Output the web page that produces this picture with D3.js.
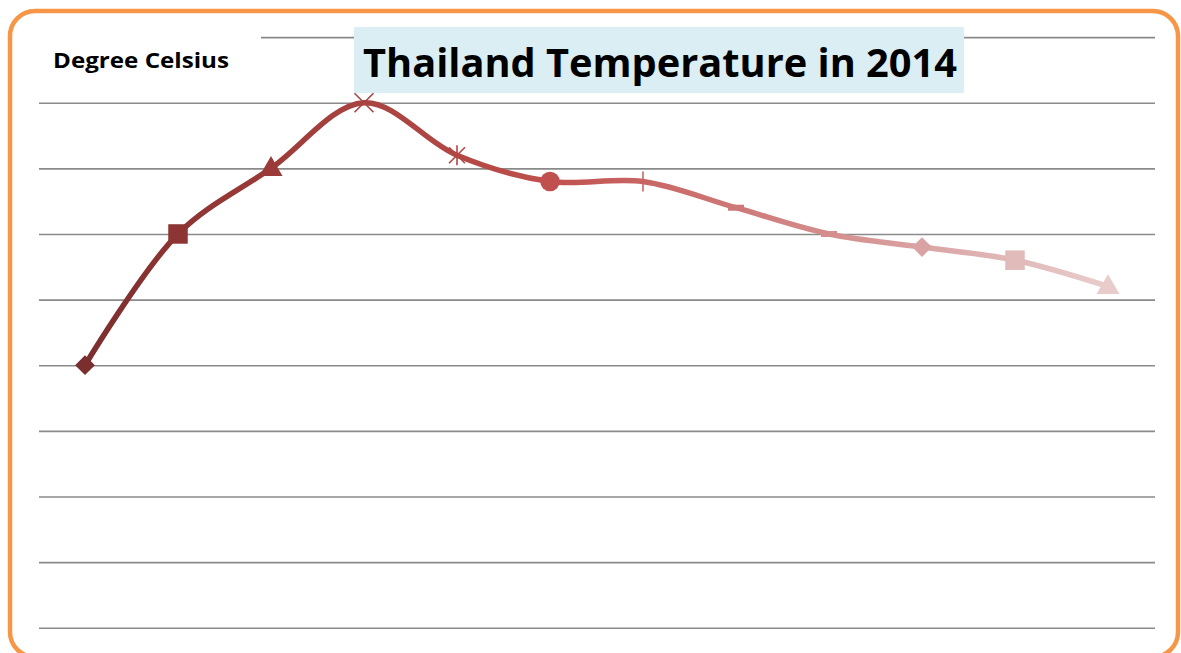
<!DOCTYPE html>
<meta charset="utf-8">
<style>
  body { margin: 0; background: #fff; }
  svg { display: block; }
</style>
<div id="chart"></div>
<script src="https://cdn.jsdelivr.net/npm/d3@7"></script>
<script>
    // data
    var months = ["Jan", "Feb", "Mar", "Apr", "May", "Jun", "Jul", "Aug", "Sep", "Oct", "Nov", "Dec"];
    var temps = [26, 28, 29, 30, 29.2, 28.8, 28.8, 28.4, 28, 27.8, 27.6, 27.2];
    var yTicks = [22, 23, 24, 25, 26, 27, 28, 29, 30, 31];
    var markers = ["diamond", "square", "triangle", "x", "star", "circle", "plus", "dash", "dash", "diamond", "square", "triangle"];
    var colors = ["#7a2e2e", "#8c3533", "#9b3b39", "#a84441", "#b14744", "#c0504d", "#c86664", "#cd7978", "#d38e8d", "#daa3a3", "#e1baba", "#e8cccc"];

    var W = 1181, H = 653;
    var svg = d3.select("#chart").append("svg")
        .attr("width", W)
        .attr("height", H);

    var x = d3.scalePoint()
        .domain(months)
        .range([85, 1108]);

    var y = d3.scaleLinear()
        .domain([22, 31])
        .range([627.7, 37.1]);

    // gridlines
    var grid = svg.append("g")
        .attr("transform", "translate(39,0)")
        .call(d3.axisLeft(y).tickValues(yTicks).tickSize(-(1155 - 39)).tickFormat(""));
    grid.select(".domain").remove();
    grid.selectAll(".tick line")
        .attr("stroke", "#8a8a8a")
        .attr("stroke-width", 1.6);

    // axis title box
    svg.append("rect")
        .attr("x", 39).attr("y", 28)
        .attr("width", 222).attr("height", 64)
        .attr("fill", "#fff");
    svg.append("text")
        .attr("x", 53).attr("y", 68)
        .attr("font-family", "'Open Sans', sans-serif")
        .attr("font-weight", "bold")
        .attr("font-size", 22)
        .attr("textLength", 176)
        .attr("lengthAdjust", "spacingAndGlyphs")
        .text("Degree Celsius");

    // title box
    svg.append("rect")
        .attr("x", 354).attr("y", 27)
        .attr("width", 610).attr("height", 66)
        .attr("fill", "#daeef3");
    svg.append("text")
        .attr("x", 363).attr("y", 77)
        .attr("font-family", "'Open Sans', sans-serif")
        .attr("font-weight", "bold")
        .attr("font-size", 39)
        .attr("textLength", 594)
        .attr("lengthAdjust", "spacingAndGlyphs")
        .text("Thailand Temperature in 2014");

    // colour gradient along the line
    var grad = svg.append("defs").append("linearGradient")
        .attr("id", "lineGrad")
        .attr("gradientUnits", "userSpaceOnUse")
        .attr("x1", x(months[0])).attr("x2", x(months[months.length - 1]))
        .attr("y1", 0).attr("y2", 0);
    grad.selectAll("stop")
        .data(colors)
        .enter().append("stop")
        .attr("offset", function(d, i) { return i / (colors.length - 1); })
        .attr("stop-color", function(d) { return d; });

    var data = months.map(function(m, i) { return {month: m, value: temps[i], marker: markers[i], color: colors[i]}; });

    svg.append("path")
        .datum(data)
        .attr("fill", "none")
        .attr("stroke", "url(#lineGrad)")
        .attr("stroke-width", 5.5)
        .attr("stroke-linecap", "round")
        .attr("d", d3.line()
            .x(function(d) { return x(d.month); })
            .y(function(d) { return y(d.value); })
            .curve(d3.curveCatmullRom.alpha(0.5)));

    // markers
    var symbolMap = {
        diamond: {type: d3.symbolDiamond2, size: 250},
        square: {type: d3.symbolSquare, size: 380},
        triangle: {type: d3.symbolTriangle, size: 230},
        circle: {type: d3.symbolCircle, size: 300}
    };

    var pts = svg.selectAll("g.pt")
        .data(data)
        .enter().append("g")
        .attr("class", "pt")
        .attr("transform", function(d) { return "translate(" + x(d.month) + "," + y(d.value) + ")"; });

    pts.each(function(d) {
        var g = d3.select(this);
        if (symbolMap[d.marker]) {
            var s = symbolMap[d.marker];
            g.append("path")
                .attr("d", d3.symbol().type(s.type).size(s.size)())
                .attr("transform", d.marker == "triangle" ? "translate(0,1)" : null)
                .attr("fill", d.color);
        } else if (d.marker == "x" || d.marker == "star") {
            var r = d.marker == "x" ? 9.5 : 8;
            g.append("path")
                .attr("d", "M" + (-r) + "," + (-r) + "L" + r + "," + r + "M" + (-r) + "," + r + "L" + r + "," + (-r) +
                    (d.marker == "star" ? "M0," + (-r - 2) + "L0," + (r + 2) : ""))
                .attr("stroke", d.color)
                .attr("stroke-width", 1.6)
                .attr("fill", "none");
        } else if (d.marker == "plus") {
            g.append("path")
                .attr("d", "M0,-10L0,10M-9,0L9,0")
                .attr("stroke", d.color)
                .attr("stroke-width", 1.6);
        } else if (d.marker == "dash") {
            g.append("rect")
                .attr("x", -8).attr("y", -3)
                .attr("width", 16).attr("height", 6)
                .attr("fill", d.color);
        }
    });

    // rounded orange frame (bottom edge runs just past the picture)
    svg.append("rect")
        .attr("x", 10).attr("y", 11)
        .attr("width", 1168).attr("height", 646)
        .attr("rx", 25).attr("ry", 25)
        .attr("fill", "none")
        .attr("stroke", "#f79646")
        .attr("stroke-width", 4.5);
</script>
